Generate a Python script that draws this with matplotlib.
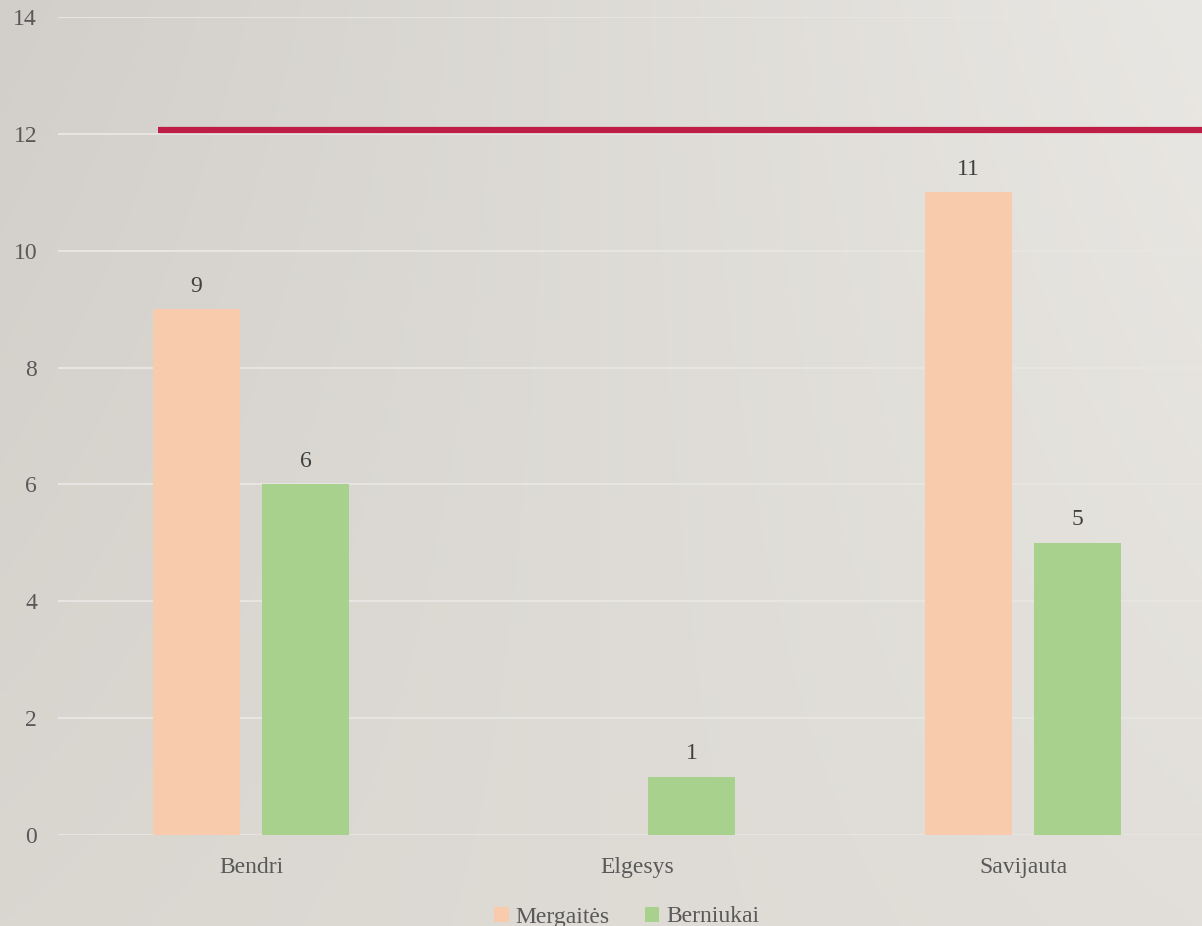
import numpy as np
import matplotlib
matplotlib.use("Agg")
import matplotlib.pyplot as plt
from matplotlib.patches import Patch

plt.rcParams['font.family'] = ['Liberation Serif', 'DejaVu Serif']

categories = ["Bendri", "Elgesys", "Savijauta"]
series_names = ["Mergaitės", "Berniukai"]
mergaites = [9, 0, 11]
berniukai = [6, 1, 5]
threshold = 12.07
y_ticks = [0, 2, 4, 6, 8, 10, 12, 14]

col_m = "#F8CBAD"
col_b = "#A9D18E"
col_line = "#BE1E45"
txt = "#595959"

W, H = 1202, 926
fig = plt.figure(figsize=(W / 100, H / 100), dpi=100)

# background gradient
bg = fig.add_axes([0, 0, 1, 1], zorder=-10)
yy, xx = np.mgrid[0:1:200j, 0:1:260j]
tl = np.array([210, 207, 202]) / 255
tr = np.array([233, 231, 227]) / 255
bl = np.array([218, 215, 209]) / 255
br = np.array([226, 223, 218]) / 255
img = (tl[None, None, :] * ((1 - xx) * (1 - yy))[..., None]
       + tr[None, None, :] * (xx * (1 - yy))[..., None]
       + bl[None, None, :] * ((1 - xx) * yy)[..., None]
       + br[None, None, :] * (xx * yy)[..., None])
bg.imshow(img, aspect='auto', extent=[0, 1, 0, 1], origin='upper', interpolation='bilinear')
bg.set_axis_off()

ax = fig.add_axes([58 / W, 91 / H, 1158 / W, 818 / H])
ax.patch.set_alpha(0)

x = np.arange(len(categories))
bw = 0.225
off = 0.142
bars_m = ax.bar(x - off, mergaites, width=bw, color=col_m, zorder=3)
bars_b = ax.bar(x + off, berniukai, width=bw, color=col_b, zorder=3)

for bars, vals in ((bars_m, mergaites), (bars_b, berniukai)):
    for b, v in zip(bars, vals):
        if v == 0:
            continue
        ax.annotate(str(v), (b.get_x() + b.get_width() / 2, v), xytext=(0, 9),
                    textcoords='offset points', ha='center', va='bottom',
                    fontsize=17, color="#404040")

ax.set_xlim(-0.5, len(categories) - 0.5)
ax.set_ylim(0, 14)
ax.set_yticks(y_ticks)
ax.set_yticklabels([str(t) for t in y_ticks])
ax.set_xticks(x)
ax.set_xticklabels(categories)
ax.tick_params(axis='y', length=0, pad=15, labelsize=17, labelcolor=txt)
ax.tick_params(axis='x', length=0, pad=16, labelsize=17, labelcolor=txt)
ax.grid(axis='y', color="#E6E5E2", linewidth=1.5, zorder=0)
for s in ax.spines.values():
    s.set_visible(False)

ax.axhline(threshold, xmin=100 / 1158, xmax=1, color=col_line, linewidth=4.5,
           solid_capstyle='butt', zorder=4)

handles = [Patch(facecolor=col_m, label=series_names[0]),
           Patch(facecolor=col_b, label=series_names[1])]
fig.legend(handles=handles, loc='center', bbox_to_anchor=(627 / W, 1 - 917 / H), ncol=2,
           frameon=False, fontsize=17, labelcolor=txt, handlelength=0.6, handleheight=0.6,
           handletextpad=0.3, columnspacing=1.5)

fig.savefig("out.png", dpi=100)
